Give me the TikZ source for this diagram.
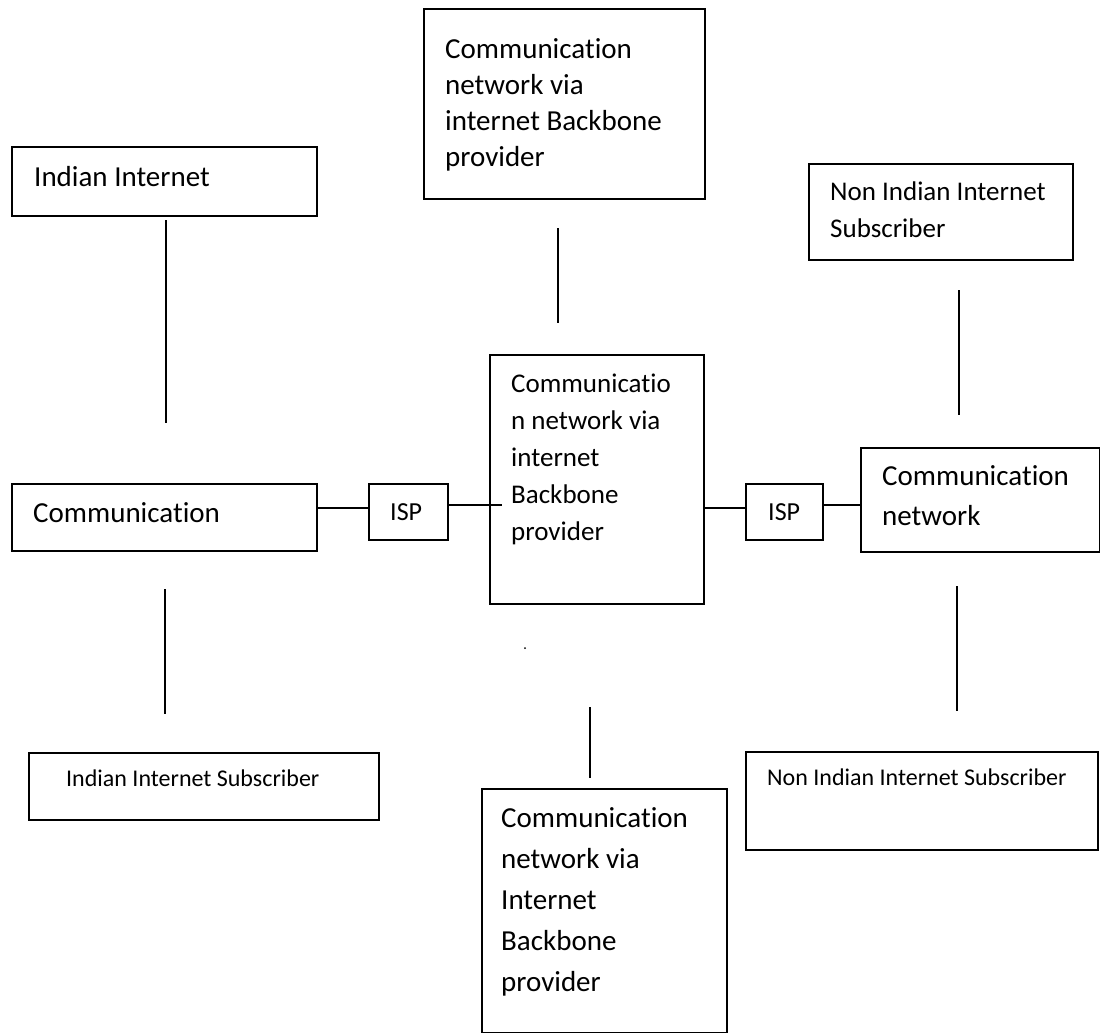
\documentclass[tikz,border=0pt]{standalone}
\usepackage{fontspec}
\setmainfont{Carlito}[Ligatures=NoCommon]
\begin{document}
\begin{tikzpicture}[x=1pt,y=-1pt,
  box/.style={draw, line width=1.6pt, inner sep=0pt, anchor=north west},
  txt/.style={inner sep=0pt, anchor=base west},
  conn/.style={line width=1.6pt}]
\useasboundingbox[fill=white] (0,0) rectangle (1100,1033);
\newcommand{\mlines}[1]{\parbox[t]{400pt}{\raggedright #1}}
% boxes
\node[box, minimum width=281pt, minimum height=190pt] (top) at (423,8) {};
\node[box, minimum width=305pt, minimum height=69pt] (indian) at (11,146) {};
\node[box, minimum width=264pt, minimum height=96pt] (nontop) at (808,163) {};
\node[box, minimum width=214pt, minimum height=249pt] (center) at (489,354) {};
\node[box, minimum width=305pt, minimum height=67pt] (comm) at (11,483) {};
\node[box, minimum width=79pt, minimum height=56pt] (ispL) at (368,483) {};
\node[box, minimum width=77pt, minimum height=56pt] (ispR) at (745,483) {};
\node[box, minimum width=239pt, minimum height=104pt] (commnet) at (860,447) {};
\node[box, minimum width=350pt, minimum height=67pt] (indsub) at (28,752) {};
\node[box, minimum width=352pt, minimum height=98pt] (nonsub) at (745,751) {};
\node[box, minimum width=245pt, minimum height=244pt] (bottom) at (481,788) {};
% texts
\node[txt, font=\fontsize{29}{36}\selectfont] (tTop) at (445,59)
  {\mlines{Communication\\network via\\internet Backbone\\provider}};
\node[txt, font=\fontsize{29}{36}\selectfont] (tIndian) at (34,186) {Indian Internet};
\node[txt, font=\fontsize{27}{37}\selectfont] (tNonTop) at (830,200)
  {\mlines{Non Indian Internet\\Subscriber}};
\node[txt, font=\fontsize{27}{37}\selectfont] (tCenter) at (511,392)
  {\mlines{Communicatio\\n network via\\internet\\Backbone\\provider}};
\node[txt, font=\fontsize{29}{36}\selectfont] (tComm) at (33,522) {Communication};
\node[txt, font=\fontsize{26}{32}\selectfont] (tIspL) at (390,520) {ISP};
\node[txt, font=\fontsize{26}{32}\selectfont] (tIspR) at (768,520) {ISP};
\node[txt, font=\fontsize{29}{40}\selectfont] (tCommNet) at (882,485)
  {\mlines{Communication\\network}};
\node[txt, font=\fontsize{24}{30}\selectfont] (tIndSub) at (66,786) {Indian Internet Subscriber};
\node[txt, font=\fontsize{24}{30}\selectfont] (tNonSub) at (767,785) {Non Indian Internet Subscriber};
\node[txt, font=\fontsize{29}{41}\selectfont] (tBottom) at (501,827)
  {\mlines{Communication\\network via\\Internet\\Backbone\\provider}};
% free-standing vertical connectors
\coordinate (v1a) at (166,220); \coordinate (v1b) at (166,423);
\coordinate (v2a) at (558,228); \coordinate (v2b) at (558,323);
\coordinate (v3a) at (959,290); \coordinate (v3b) at (959,415);
\coordinate (v4a) at (165,589); \coordinate (v4b) at (165,714);
\coordinate (v5a) at (590,707); \coordinate (v5b) at (590,778);
\coordinate (v6a) at (957,586); \coordinate (v6b) at (957,711);
\draw[conn] (v1a) -- (v1b);
\draw[conn] (v2a) -- (v2b);
\draw[conn] (v3a) -- (v3b);
\draw[conn] (v4a) -- (v4b);
\draw[conn] (v5a) -- (v5b);
\draw[conn] (v6a) -- (v6b);
% horizontal connectors
\coordinate (h2end) at (502,505);
\draw[conn] (comm.east |- 0,508) -- (ispL.west |- 0,508);
\draw[conn] (ispL.east |- 0,505) -- (h2end);
\draw[conn] (center.east |- 0,508) -- (ispR.west |- 0,508);
\draw[conn] (ispR.east |- 0,505) -- (commnet.west |- 0,505);
% stray dot
\coordinate (dot) at (525,648);
\fill (dot) circle (1pt);
\end{tikzpicture}
\end{document}
